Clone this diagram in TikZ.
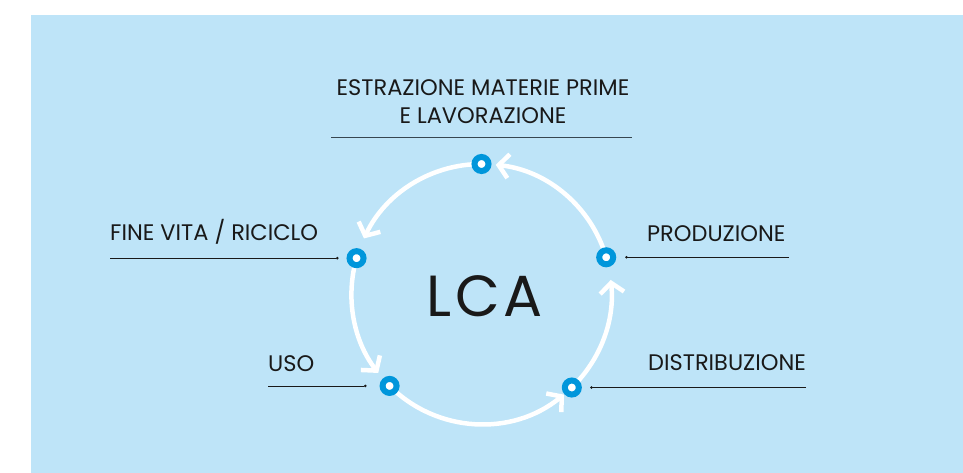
\documentclass[tikz,border=0pt]{standalone}
\usepackage{fontspec}
\setmainfont{Poppins}
\usetikzlibrary{arrows.meta}
\definecolor{bgblue}{RGB}{190,228,248}
\definecolor{dotblue}{RGB}{0,150,219}
\definecolor{ink}{RGB}{25,25,25}
\definecolor{rule}{RGB}{55,70,80}
\begin{document}
\begin{tikzpicture}[x=1pt,y=1pt,
  stage/.style={circle, draw=dotblue, line width=6pt, fill=white, minimum size=14pt, inner sep=0pt},
  cyc/.style={white, line width=4.5pt, -{Straight Barb[length=10pt,width=24pt,line width=4.5pt]}},
  leader/.style={ink, line width=0.8pt, -{Circle[length=2.5pt]}},
  lbl/.style={text=ink, font=\fontsize{22.5}{28}\selectfont, inner sep=0pt}
]
\useasboundingbox (0,0) rectangle (963,473);
\fill[bgblue] (30.5,0) rectangle (963,458);
\coordinate (c) at (481.5,179);
\path (c) ++(90:130) coordinate (pT)
      (c) ++(164:130) coordinate (pL)
      (c) ++(225:130) coordinate (pBL)
      (c) ++(314:130) coordinate (pBR)
      (c) ++(16.4:130) coordinate (pR);
% cycle arcs
\draw[cyc] (pR) arc[start angle=16.4, end angle=83.7, radius=130];
\draw[cyc] (pT) arc[start angle=90, end angle=154.7, radius=130];
\draw[cyc] (pL) arc[start angle=164, end angle=217.4, radius=130];
\draw[cyc] (pBL) arc[start angle=225, end angle=309.3, radius=130];
\draw[cyc] (pBR) arc[start angle=314, end angle=366.2, radius=130];
% stage dots
\node[stage] (T) at (pT) {};
\node[stage] (L) at (pL) {};
\node[stage] (BL) at (pBL) {};
\node[stage] (BR) at (pBR) {};
\node[stage] (R) at (pR) {};
% centre
\node[text=ink, font=\fontsize{58}{60}\selectfont, inner sep=0pt, anchor=base] (lca) at (484.5,156) {L\kern4pt C\kern4pt A};
% labels
\node[lbl, align=center, anchor=base] (tEst) at (483,349) {ESTRAZIONE MATERIE PRIME\\E LAVORAZIONE};
\coordinate (ruleA) at (331,335);
\coordinate (ruleB) at (632,335);
\draw[rule, line width=1pt] (ruleA) -- (ruleB);
\node[lbl, anchor=base west] (tFine) at (110,232) {FINE VITA / RICICLO};
\node[lbl, anchor=base west] (tProd) at (647,231.3) {PRODUZIONE};
\node[lbl, anchor=base west] (tUso) at (268,101) {USO};
\node[lbl, anchor=base west] (tDist) at (648,102) {DISTRIBUZIONE};
% leader lines
\coordinate (xFine) at (110,0);
\coordinate (xProd) at (789,0);
\coordinate (xUso) at (268,0);
\coordinate (xDist) at (806,0);
\draw[leader, shorten >=8pt] (L -| xFine) -- (L);
\draw[leader, shorten >=9pt] (R -| xProd) -- (R);
\draw[leader, shorten >=13pt] (BL -| xUso) -- (BL);
\draw[leader, shorten >=8.5pt] (BR -| xDist) -- (BR);
\end{tikzpicture}
\end{document}
